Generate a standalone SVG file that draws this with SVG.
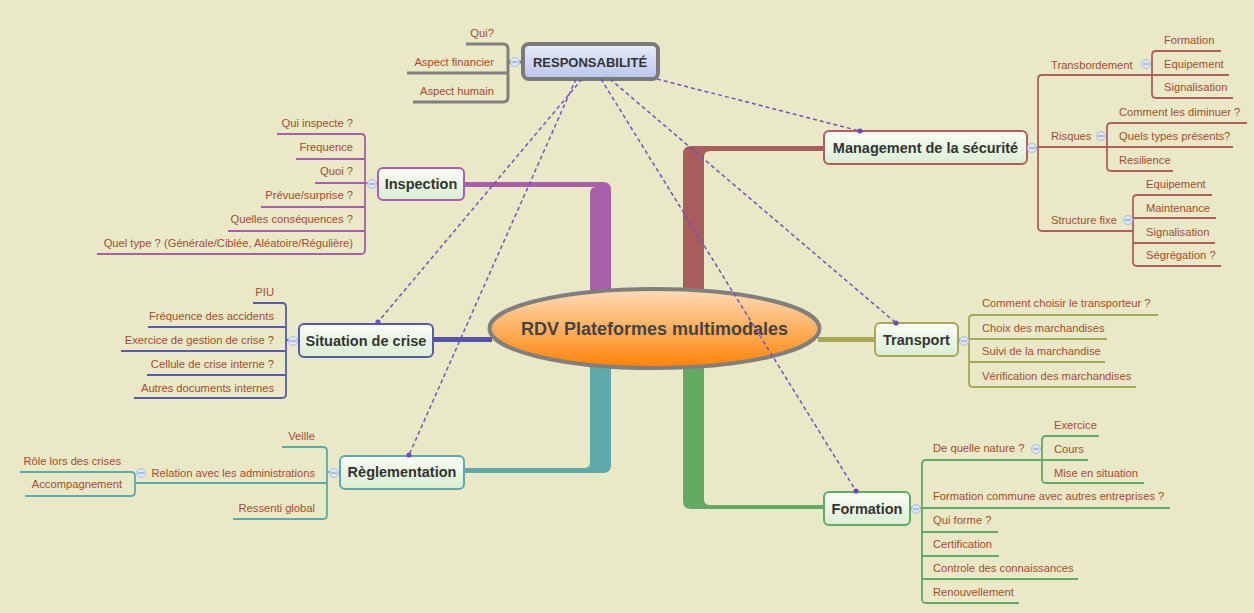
<svg xmlns="http://www.w3.org/2000/svg" width="1254" height="613" viewBox="0 0 1254 613">
<defs>
<linearGradient id="gCenter" x1="0" y1="0" x2="0" y2="1"><stop offset="0" stop-color="#FFDDB8"/><stop offset="0.5" stop-color="#FFB060"/><stop offset="1" stop-color="#FF8205"/></linearGradient>
<linearGradient id="gNode" x1="0" y1="0" x2="0" y2="1"><stop offset="0" stop-color="#FAFDF6"/><stop offset="1" stop-color="#DAEED2"/></linearGradient>
<linearGradient id="gResp" x1="0" y1="0" x2="0" y2="1"><stop offset="0" stop-color="#E8EDF9"/><stop offset="1" stop-color="#B8C5EC"/></linearGradient>
</defs>
<style>
.sub{font-family:"Liberation Sans",Arial,sans-serif;font-size:11.2px;fill:#A84B2E}
.end{text-anchor:end}
.lbl{font-family:"Liberation Sans",Arial,sans-serif;font-size:14.5px;font-weight:bold;fill:#333333;text-anchor:middle}
.br{fill:none;stroke-width:1.8;stroke-linejoin:round}
.tog{fill:#DCE6F6;stroke:#A9BDE2;stroke-width:1}
.tgm{stroke:#8DA2CF;stroke-width:1.2}
.rel{fill:none;stroke:#7052C4;stroke-width:1.5;stroke-dasharray:4 3}
.dot{fill:#6A4CC0}
.node{fill:url(#gNode);stroke-width:2}
</style>
<rect x="0" y="0" width="1254" height="613" fill="#E9E9C7"/>

<g id="connectors">
<!-- main thick branches -->
<path d="M683 292 L683 154 Q683 146 691 146 L824 146 L824 151 L710 151 Q704 151 704 157 L704 292 Z" fill="#A85C5C"/>
<path d="M611 292 L611 190 Q611 182 603 182 L464 182 L464 187 L596 187 Q590 187 590 193 L590 292 Z" fill="#A95FA9"/>
<path d="M590 366 L590 462 Q590 468 584 468 L464 468 L464 473 L603 473 Q611 473 611 465 L611 366 Z" fill="#5FA9AB"/>
<path d="M683 366 L683 501 Q683 509 691 509 L824 509 L824 505 L710 505 Q704 505 704 499 L704 366 Z" fill="#62AB62"/>
<rect x="434" y="337" width="58" height="5" fill="#5555AA"/>
<rect x="818" y="337" width="57" height="5" fill="#A8A855"/>

<!-- RESPONSABILITE children -->
<g class="br" stroke="#808080" stroke-width="3" style="stroke-width:3">
<path d="M466 44 L503 44 Q508 44 508 49 L508 97 Q508 102 503 102 L413 102"/>
<path d="M407 73 L508 73"/>
<path d="M508 62 L521 62"/>
</g>

<!-- Management children -->
<g class="br" stroke="#B35D5D">
<path d="M1152 75 L1042 75 Q1038 75 1038 79 L1038 227 Q1038 231 1042 231 L1133 231"/>
<path d="M1027 147 L1107 147"/>
<path d="M1221 51 L1156 51 Q1152 51 1152 55 L1152 94 Q1152 98 1156 98 L1233 98"/>
<path d="M1152 75 L1229 75"/>
<path d="M1247 123 L1111 123 Q1107 123 1107 127 L1107 167 Q1107 171 1111 171 L1173 171"/>
<path d="M1107 147 L1233 147"/>
<path d="M1212 195 L1137 195 Q1133 195 1133 199 L1133 262 Q1133 266 1137 266 L1221 266"/>
<path d="M1133 218 L1216 218"/>
<path d="M1133 243 L1215 243"/>
</g>

<!-- Inspection children -->
<g class="br" stroke="#A95FA9">
<path d="M277 134 L361 134 Q365 134 365 138 L365 250 Q365 254 361 254 L97 254"/>
<path d="M296 159 L365 159"/>
<path d="M315 183 L377 183"/>
<path d="M261 207 L365 207"/>
<path d="M228 231 L365 231"/>
</g>

<!-- Situation de crise children -->
<g class="br" stroke="#5A5AAA">
<path d="M253 303 L282 303 Q286 303 286 307 L286 394 Q286 398 282 398 L134 398"/>
<path d="M148 327 L286 327"/>
<path d="M121 351 L286 351"/>
<path d="M147 375 L286 375"/>
<path d="M286 340 L298 340"/>
</g>

<!-- Reglementation children -->
<g class="br" stroke="#5FA9AB">
<path d="M282 447 L323 447 Q327 447 327 451 L327 515 Q327 519 323 519 L233 519"/>
<path d="M135 483 L327 483"/>
<path d="M327 472 L339 472"/>
<path d="M20 472 L131 472 Q135 472 135 476 L135 492 Q135 496 131 496 L25 496"/>
</g>

<!-- Transport children -->
<g class="br" stroke="#A8A855">
<path d="M1158 315 L973 315 Q969 315 969 319 L969 383 Q969 387 973 387 L1136 387"/>
<path d="M958 339 L1107 339"/>
<path d="M969 362 L1105 362"/>
</g>

<!-- Formation children -->
<g class="br" stroke="#62AB62">
<path d="M1042 460 L926 460 Q922 460 922 464 L922 599 Q922 603 926 603 L1019 603"/>
<path d="M910 508 L1170 508"/>
<path d="M922 532 L998 532"/>
<path d="M922 556 L999 556"/>
<path d="M922 579 L1078 579"/>
<path d="M1099 436 L1046 436 Q1042 436 1042 440 L1042 479 Q1042 483 1046 483 L1144 483"/>
<path d="M1042 460 L1088 460"/>
</g>
</g>

<g id="node-center">
<ellipse cx="654.5" cy="328.5" rx="165" ry="39.5" fill="url(#gCenter)" stroke="#7F7F7F" stroke-width="4"/>
<text x="654.5" y="335" class="lbl" style="font-size:18px;fill:#444444">RDV Plateformes multimodales</text>
</g>

<g id="node-responsabilite">
<rect x="523" y="44" width="135" height="35" rx="6" fill="url(#gResp)" stroke="#7A7A7A" stroke-width="4"/>
<text x="590" y="67" class="lbl" style="font-size:13px">RESPONSABILITÉ</text>
<circle cx="515" cy="62" r="4.5" class="tog"/><line x1="512" y1="62" x2="518" y2="62" class="tgm"/>
<text x="494" y="37" class="sub end">Qui?</text>
<text x="494" y="66" class="sub end">Aspect financier</text>
<text x="494" y="95" class="sub end">Aspect humain</text>
</g>

<g id="node-management">
<rect x="824" y="131" width="203" height="33" rx="5" class="node" stroke="#B35D5D"/>
<text x="925.5" y="152.5" class="lbl">Management de la sécurité</text>
<circle cx="1032" cy="148" r="4.5" class="tog"/><line x1="1029" y1="148" x2="1035" y2="148" class="tgm"/>
<text x="1051" y="69" class="sub">Transbordement</text>
<circle cx="1146" cy="64" r="4.5" class="tog"/><line x1="1143" y1="64" x2="1149" y2="64" class="tgm"/>
<text x="1164" y="44" class="sub">Formation</text>
<text x="1164" y="68" class="sub">Equipement</text>
<text x="1164" y="91" class="sub">Signalisation</text>
<text x="1051" y="140" class="sub">Risques</text>
<circle cx="1101" cy="136" r="4.5" class="tog"/><line x1="1098" y1="136" x2="1104" y2="136" class="tgm"/>
<text x="1119" y="116" class="sub">Comment les diminuer ?</text>
<text x="1119" y="140" class="sub">Quels types présents?</text>
<text x="1119" y="164" class="sub">Resilience</text>
<text x="1051" y="224" class="sub">Structure fixe</text>
<circle cx="1128" cy="220" r="4.5" class="tog"/><line x1="1125" y1="220" x2="1131" y2="220" class="tgm"/>
<text x="1146" y="188" class="sub">Equipement</text>
<text x="1146" y="212" class="sub">Maintenance</text>
<text x="1146" y="236" class="sub">Signalisation</text>
<text x="1146" y="259" class="sub">Ségrégation ?</text>
</g>

<g id="node-inspection">
<rect x="378" y="168" width="86" height="32" rx="5" class="node" stroke="#A95FA9"/>
<text x="421" y="189" class="lbl">Inspection</text>
<circle cx="372" cy="184" r="4.5" class="tog"/><line x1="369" y1="184" x2="375" y2="184" class="tgm"/>
<text x="353" y="127" class="sub end">Qui inspecte ?</text>
<text x="353" y="151" class="sub end">Frequence</text>
<text x="353" y="175" class="sub end">Quoi ?</text>
<text x="353" y="199" class="sub end">Prévue/surprise ?</text>
<text x="353" y="223" class="sub end">Quelles conséquences ?</text>
<text x="353" y="247" class="sub end">Quel type ? (Générale/Ciblée, Aléatoire/Régulière)</text>
</g>

<g id="node-situation">
<rect x="299" y="324" width="134" height="33" rx="5" class="node" stroke="#5A5AAA"/>
<text x="366" y="346" class="lbl">Situation de crise</text>
<circle cx="293" cy="341" r="4.5" class="tog"/><line x1="290" y1="341" x2="296" y2="341" class="tgm"/>
<text x="274" y="296" class="sub end">PIU</text>
<text x="274" y="320" class="sub end">Fréquence des accidents</text>
<text x="274" y="344" class="sub end">Exercice de gestion de crise ?</text>
<text x="274" y="368" class="sub end">Cellule de crise interne ?</text>
<text x="274" y="392" class="sub end">Autres documents internes</text>
</g>

<g id="node-reglementation">
<rect x="340" y="456" width="124" height="33" rx="5" class="node" stroke="#5FA9AB"/>
<text x="402" y="477" class="lbl">Règlementation</text>
<circle cx="334" cy="473" r="4.5" class="tog"/><line x1="331" y1="473" x2="337" y2="473" class="tgm"/>
<text x="315" y="440" class="sub end">Veille</text>
<text x="315" y="477" class="sub end">Relation avec les administrations</text>
<circle cx="141" cy="473" r="4.5" class="tog"/><line x1="138" y1="473" x2="144" y2="473" class="tgm"/>
<text x="121" y="465" class="sub end">Rôle lors des crises</text>
<text x="122" y="488" class="sub end">Accompagnement</text>
<text x="315" y="512" class="sub end">Ressenti global</text>
</g>

<g id="node-transport">
<rect x="875" y="323" width="83" height="33" rx="5" class="node" stroke="#A8A855"/>
<text x="916.5" y="344.5" class="lbl">Transport</text>
<circle cx="964" cy="341" r="4.5" class="tog"/><line x1="961" y1="341" x2="967" y2="341" class="tgm"/>
<text x="982" y="307" class="sub">Comment choisir le transporteur ?</text>
<text x="982" y="332" class="sub">Choix des marchandises</text>
<text x="982" y="355" class="sub">Suivi de la marchandise</text>
<text x="982" y="380" class="sub">Vérification des marchandises</text>
</g>

<g id="node-formation">
<rect x="824" y="492" width="86" height="33" rx="5" class="node" stroke="#62AB62"/>
<text x="867" y="513.5" class="lbl">Formation</text>
<circle cx="916" cy="509" r="4.5" class="tog"/><line x1="913" y1="509" x2="919" y2="509" class="tgm"/>
<text x="933" y="452" class="sub">De quelle nature ?</text>
<circle cx="1036" cy="449" r="4.5" class="tog"/><line x1="1033" y1="449" x2="1039" y2="449" class="tgm"/>
<text x="1054" y="429" class="sub">Exercice</text>
<text x="1054" y="453" class="sub">Cours</text>
<text x="1054" y="477" class="sub">Mise en situation</text>
<text x="933" y="500" class="sub">Formation commune avec autres entreprises ?</text>
<text x="933" y="524" class="sub">Qui forme ?</text>
<text x="933" y="548" class="sub">Certification</text>
<text x="933" y="572" class="sub">Controle des connaissances</text>
<text x="933" y="596" class="sub">Renouvellement</text>
</g>

<g id="relationships">
<path class="rel" d="M657 79 L860 131"/>
<path class="rel" d="M610 79 L896 323"/>
<path class="rel" d="M601 79 L856 491"/>
<path class="rel" d="M582 79 L378 322"/>
<path class="rel" d="M576 79 L409 455"/>
<circle class="dot" cx="860" cy="131" r="2.6"/>
<circle class="dot" cx="896" cy="323" r="2.6"/>
<circle class="dot" cx="856" cy="491" r="2.6"/>
<circle class="dot" cx="378" cy="322" r="2.6"/>
<circle class="dot" cx="409" cy="455" r="2.6"/>
</g>
</svg>
